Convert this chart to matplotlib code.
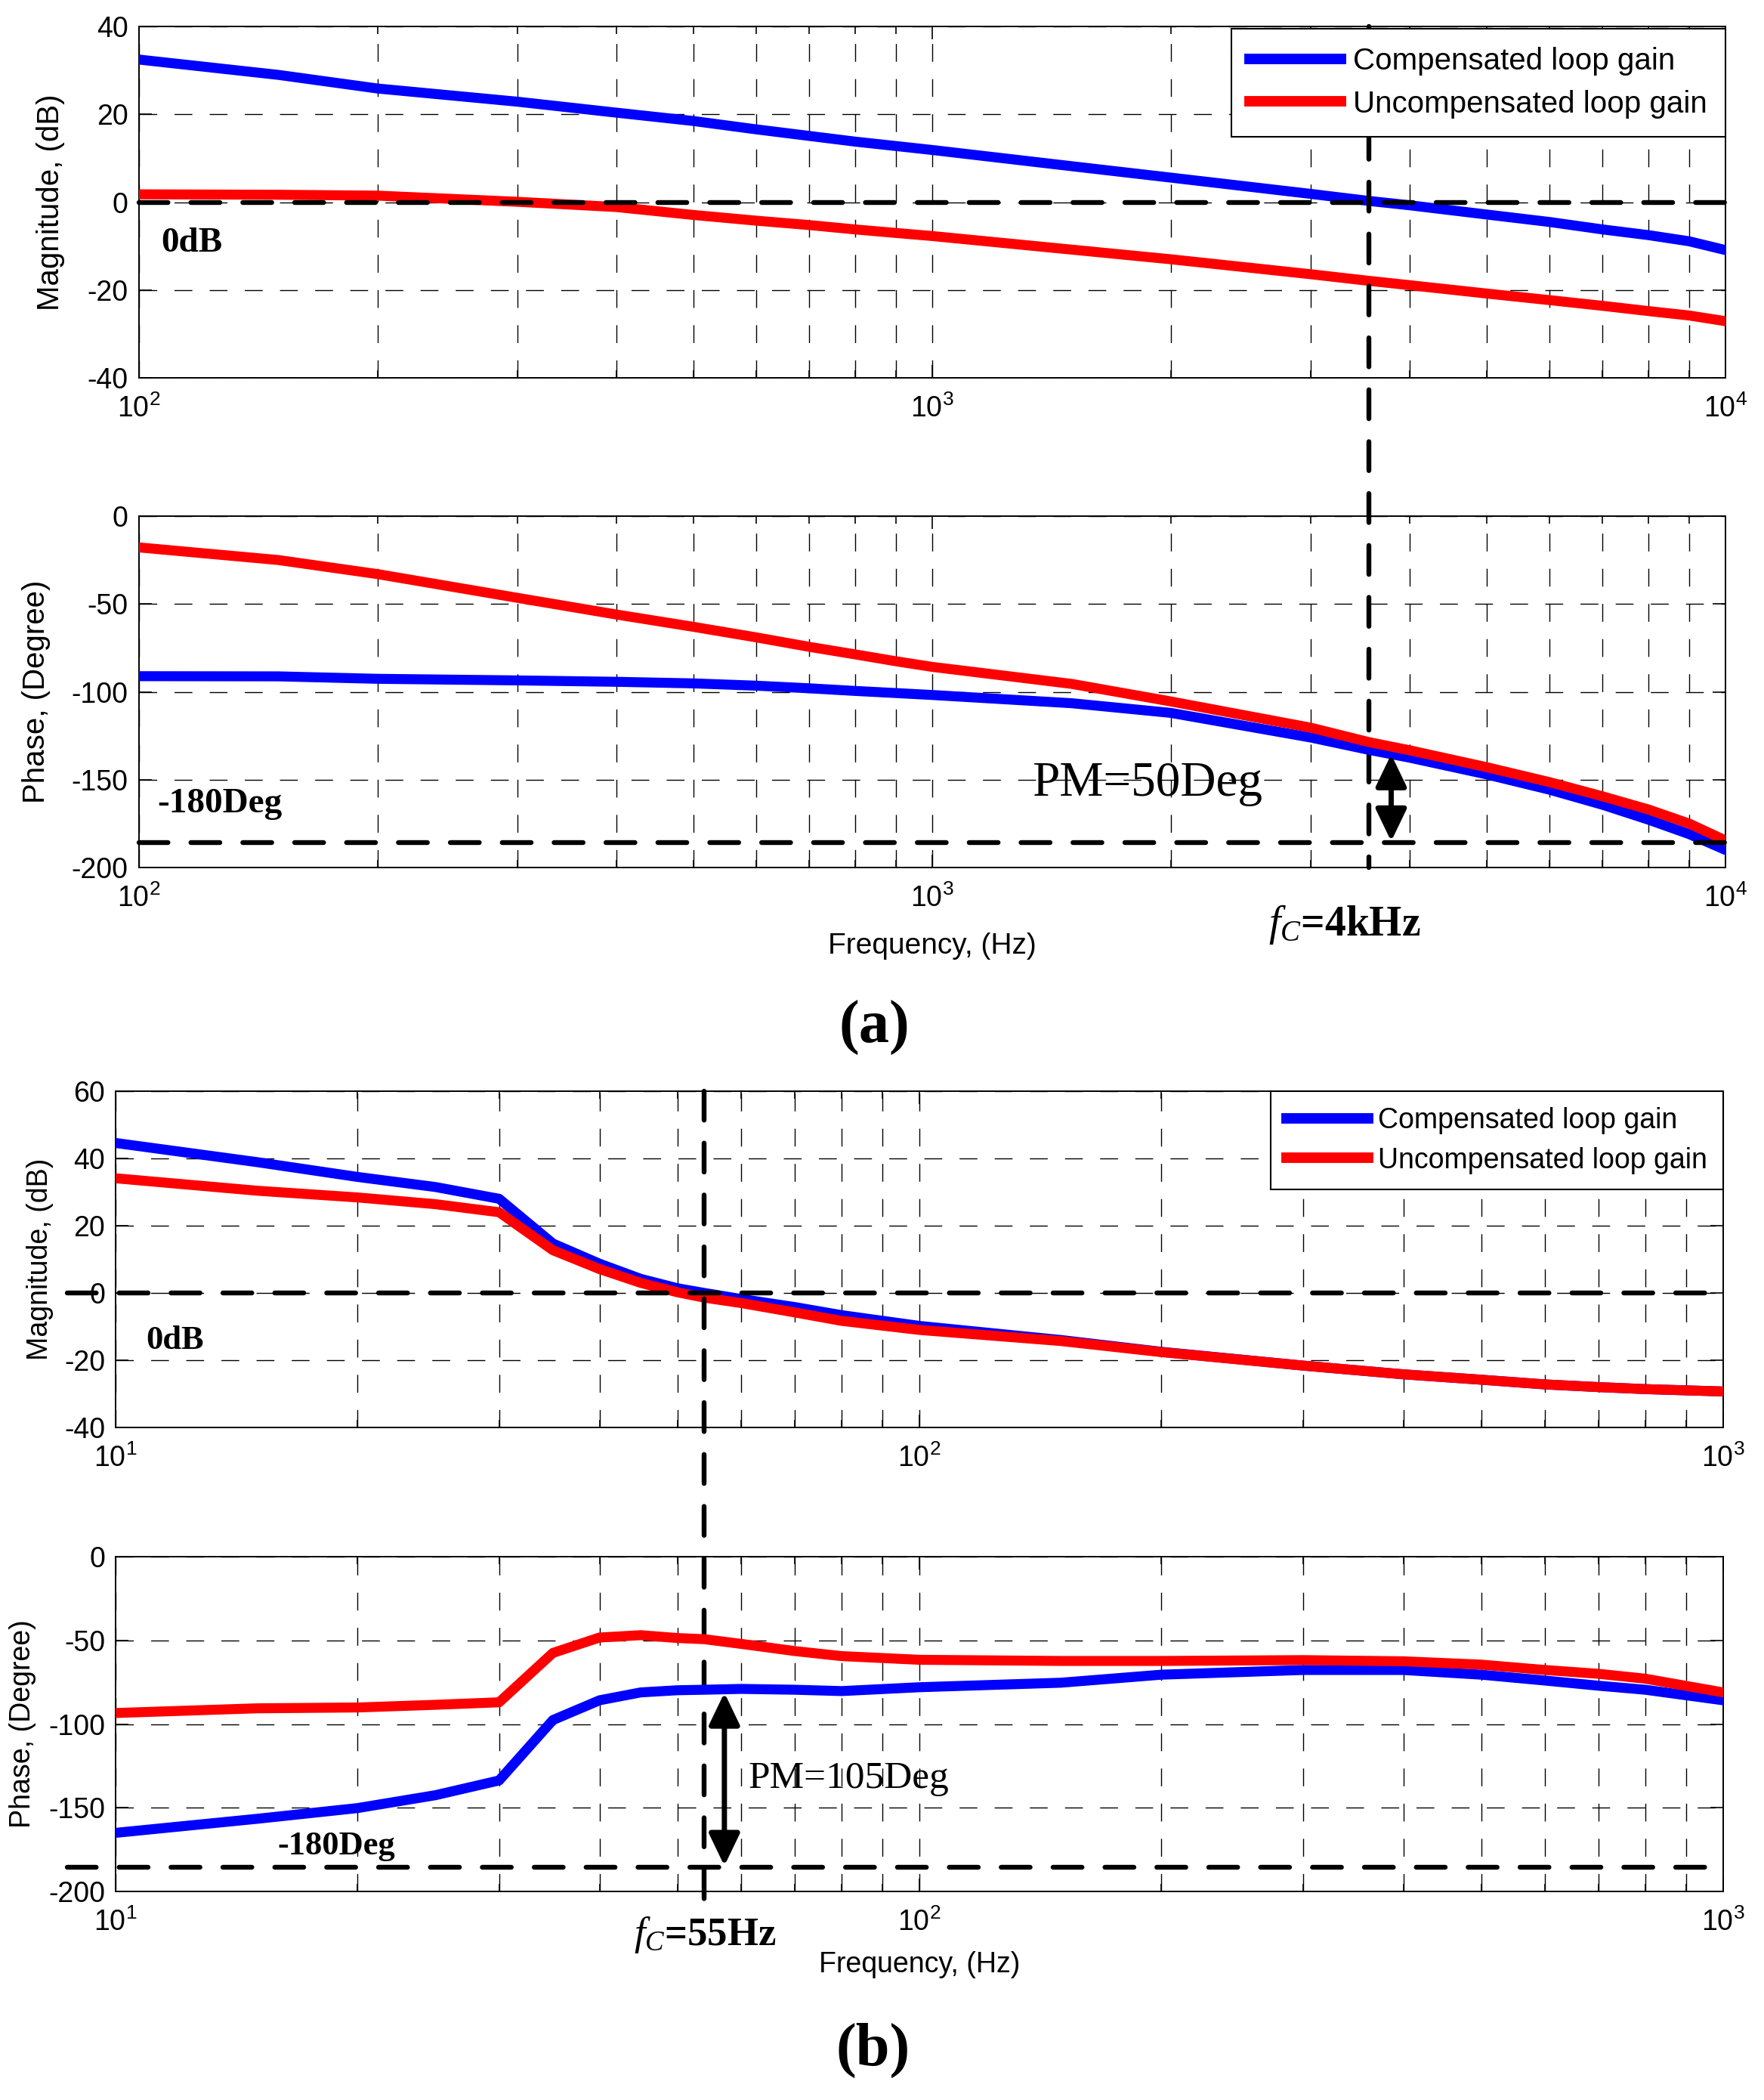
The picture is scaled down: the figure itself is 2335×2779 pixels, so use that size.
import numpy as np
import matplotlib
matplotlib.use("Agg")
import matplotlib.pyplot as plt
from matplotlib.ticker import LogLocator, NullFormatter, MultipleLocator
from matplotlib.patches import ArrowStyle
from matplotlib.transforms import blended_transform_factory as blend

plt.rcParams['font.family'] = ['Liberation Sans', 'DejaVu Sans']
plt.rcParams['axes.unicode_minus'] = False
plt.rcParams['mathtext.fontset'] = 'custom'
plt.rcParams['mathtext.it'] = 'Liberation Serif:italic'
plt.rcParams['mathtext.rm'] = 'Liberation Serif'

# ---- data (a): 4 kHz crossover ----
freq_a = [100, 150, 200, 300, 400, 500, 600, 700, 800, 900, 1000, 1500, 2000,
          3000, 3550, 4000, 5000, 6000, 7000, 8000, 9000, 10000]
mag_comp_a = [32.5, 29.0, 25.9, 22.9, 20.4, 18.5, 16.6, 15.1, 13.8, 12.8, 11.9, 8.2, 5.6,
              1.9, 0.3, -0.7, -2.8, -4.5, -6.2, -7.5, -8.9, -10.9]
mag_unc_a = [1.8, 1.7, 1.5, 0.1, -1.1, -2.9, -4.2, -5.2, -6.2, -7.0, -7.7, -10.8, -13.0,
             -16.4, -17.9, -18.9, -20.8, -22.3, -23.6, -24.8, -25.8, -27.1]
ph_comp_a = [-91.1, -91.2, -92.6, -93.5, -94.3, -95.2, -96.5, -98.0, -99.5, -100.7, -101.8,
             -106.5, -112.0, -126.0, -133.0, -137.5, -147.0, -155.7, -164.3, -172.8, -181.0, -190.0]
ph_unc_a = [-17.8, -25.0, -33.0, -46.5, -56.0, -63.0, -69.0, -74.4, -78.7, -82.6, -85.8,
            -95.5, -105.5, -120.4, -128.6, -133.3, -142.9, -151.4, -159.5, -167.0, -175.0, -184.6]
fc_a = 3550
pm_arrow_a = (3790, -135.6, -185.1)

# ---- data (b): 55 Hz crossover ----
freq_b = [10, 15, 20, 25, 30, 35, 40, 45, 50, 54, 60, 70, 80, 100, 150, 200,
          300, 400, 500, 600, 700, 800, 1000]
mag_comp_b = [44.6, 38.9, 34.5, 31.5, 28.0, 14.7, 8.7, 4.2, 1.4, 0.0, -1.8, -4.2, -6.6,
              -9.8, -14.0, -17.5, -21.6, -24.2, -25.8, -27.2, -28.0, -28.6, -29.3]
mag_unc_b = [34.1, 30.4, 28.4, 26.4, 24.0, 12.7, 7.1, 3.0, 0.2, -1.4, -3.0, -5.8, -8.3,
             -11.0, -14.3, -17.6, -21.6, -24.2, -25.8, -27.2, -28.0, -28.6, -29.3]
ph_comp_b = [-165.0, -156.6, -150.2, -142.5, -133.7, -97.6, -85.8, -81.1, -79.8, -79.5, -79.0,
             -79.5, -80.3, -78.0, -75.3, -70.5, -67.7, -67.7, -70.5, -74.0, -77.1, -79.5, -85.8]
ph_unc_b = [-93.4, -90.6, -90.1, -88.5, -87.0, -57.5, -48.3, -46.9, -48.6, -49.3, -52.1,
            -56.4, -59.4, -61.6, -62.3, -62.3, -61.8, -62.5, -64.5, -67.7, -70.0, -72.9, -81.1]
fc_b = 54
pm_arrow_b = (57.2, -81.3, -184.7)

labels = ['Compensated loop gain', 'Uncompensated loop gain']
BLUE, RED = (0, 0, 1), (1, 0, 0)
LW = 9.5

W, H = 2335, 2779
fig = plt.figure(figsize=(W / 100, H / 100), dpi=100)


def add_axes(left, right, top, bottom):
    return fig.add_axes([left / W, 1 - bottom / H, (right - left) / W, (bottom - top) / H])


def setup(ax, xlim, ylim, ystep, fs=27):
    ax.set_xscale('log')
    ax.set_xlim(xlim)
    ax.set_ylim(ylim)
    ax.yaxis.set_major_locator(MultipleLocator(ystep))
    ax.xaxis.set_major_locator(LogLocator(base=10, numticks=10))
    ax.xaxis.set_minor_locator(LogLocator(base=10, subs=np.arange(2, 10), numticks=100))
    ax.xaxis.set_minor_formatter(NullFormatter())
    ax.grid(True, which='both', axis='x', color='k', lw=1.0, linestyle=(0, (17, 16.5)))
    ax.grid(True, which='major', axis='y', color='k', lw=1.0, linestyle=(0, (17, 16.5)))
    ax.set_axisbelow(True)
    ax.tick_params(which='both', direction='in', top=True, right=True, width=1.2, labelsize=fs)
    ax.tick_params(which='major', length=12)
    ax.tick_params(which='minor', length=7)
    ax.tick_params(axis='x', pad=16)
    ax.tick_params(axis='y', pad=10)
    for sp in ax.spines.values():
        sp.set_linewidth(1.4)


THICK = dict(color='k', lw=4.6, dashes=(6.0, 4.75), dash_capstyle='round', zorder=4)


def hline(ax, y, x0=0.0):
    ax.plot([x0, 1.0], [y, y], transform=ax.get_yaxis_transform(), clip_on=False, **THICK)


def arrow(ax, x, y1, y2):
    ax.annotate('', xy=(x, y2), xytext=(x, y1),
                arrowprops=dict(arrowstyle=ArrowStyle('<|-|>', head_length=2.6, head_width=1.25),
                                color='k', lw=5, shrinkA=0, shrinkB=0, mutation_scale=10),
                zorder=6)


serif = ['Liberation Serif', 'DejaVu Serif']

# ================= (a) =================
mag_top_a, mag_bot_a, ph_bot_a = 35.2, 500.0, 1148.0
axm = add_axes(183.6, 2284, mag_top_a, mag_bot_a)
axp = add_axes(183.6, 2284, 683, ph_bot_a)
axp.set_facecolor('none')
setup(axm, (100, 10000), (-40, 40), 20)
setup(axp, (100, 10000), (-200, 0), 50)

axm.plot(freq_a, mag_comp_a, color=BLUE, lw=LW, label=labels[0], zorder=3)
axm.plot(freq_a, mag_unc_a, color=RED, lw=LW, label=labels[1], zorder=3)
axp.plot(freq_a, ph_comp_a, color=BLUE, lw=LW, zorder=3)
axp.plot(freq_a, ph_unc_a, color=RED, lw=LW, zorder=3)

hline(axm, 0)
hline(axp, -186)
y_end = -(ph_bot_a - mag_bot_a) / (mag_bot_a - mag_top_a)
axm.plot([fc_a, fc_a], [1.0, y_end], transform=blend(axm.transData, axm.transAxes),
         clip_on=False, **THICK)
arrow(axp, *pm_arrow_a)

leg = axm.legend(loc='upper right', bbox_to_anchor=(1.0, 0.9935), fontsize=29,
                 handlelength=3.0, handletextpad=0.4, borderpad=0.6, labelspacing=0.45,
                 fancybox=False, edgecolor='k', framealpha=1, borderaxespad=0)
leg.get_frame().set_linewidth(1.5)
leg.set_zorder(5)
for ln in leg.get_lines():
    ln.set_linewidth(10)

axm.set_ylabel('Magnitude, (dB)', fontsize=29)
axm.yaxis.set_label_coords(-0.0465, 0.5)
axp.set_ylabel('Phase, (Degree)', fontsize=29)
axp.yaxis.set_label_coords(-0.0555, 0.5)
axp.set_xlabel('Frequency, (Hz)', fontsize=28)
axp.xaxis.set_label_coords(0.5, -0.185)

axm.text(106.6, -11.2, '0dB', fontsize=34, fontweight='bold', family=serif, va='baseline')
axp.text(105.5, -168.5, '-180Deg', fontsize=34, fontweight='bold', family=serif, va='baseline')
axp.text(1337, -159, 'PM=50Deg', fontsize=47, family=serif, va='baseline')
axp.text(2653, -0.194, r'$f_{C}$=4kHz', transform=blend(axp.transData, axp.transAxes),
         fontsize=40, fontweight='bold', family=serif, va='baseline')
fig.text(1157.5 / W, 1 - 1360 / H, '(a)', fontsize=58, fontweight='bold', family=serif,
         ha='center', va='center')

# ================= (b) =================
mag_top_b, mag_bot_b, ph_bot_b = 1444.0, 1889.0, 2503.0
bxm = add_axes(153, 2281, mag_top_b, mag_bot_b)
bxp = add_axes(153, 2281, 2060, ph_bot_b)
bxp.set_facecolor('none')
setup(bxm, (10, 1000), (-40, 60), 20)
setup(bxp, (10, 1000), (-200, 0), 50)

bxm.plot(freq_b, mag_comp_b, color=BLUE, lw=LW, label=labels[0], zorder=3)
bxm.plot(freq_b, mag_unc_b, color=RED, lw=LW, label=labels[1], zorder=3)
bxp.plot(freq_b, ph_comp_b, color=BLUE, lw=LW, zorder=3)
bxp.plot(freq_b, ph_unc_b, color=RED, lw=LW, zorder=3)

hline(bxm, 0, x0=-0.03)
hline(bxp, -185.5, x0=-0.03)
y_end = -(ph_bot_b + 10 - mag_bot_b) / (mag_bot_b - mag_top_b)
bxm.plot([fc_b, fc_b], [1.0, y_end], transform=blend(bxm.transData, bxm.transAxes),
         clip_on=False, **THICK)
arrow(bxp, *pm_arrow_b)

leg = bxm.legend(loc='upper right', bbox_to_anchor=(1.0, 1.0), fontsize=27,
                 handlelength=2.9, handletextpad=0.35, borderpad=0.55, labelspacing=0.45,
                 fancybox=False, edgecolor='k', framealpha=1, borderaxespad=0)
leg.get_frame().set_linewidth(1.5)
leg.set_zorder(5)
for ln in leg.get_lines():
    ln.set_linewidth(10)

bxm.set_ylabel('Magnitude, (dB)', fontsize=27)
bxm.yaxis.set_label_coords(-0.0385, 0.5)
bxp.set_ylabel('Phase, (Degree)', fontsize=27)
bxp.yaxis.set_label_coords(-0.0493, 0.5)
bxp.set_xlabel('Frequency, (Hz)', fontsize=27)
bxp.xaxis.set_label_coords(0.5, -0.178)

bxm.text(10.9, -16.7, '0dB', fontsize=32, fontweight='bold', family=serif, va='baseline')
bxp.text(15.9, -177.9, '-180Deg', fontsize=32, fontweight='bold', family=serif, va='baseline')
bxp.text(61.2, -138, 'PM=105Deg', fontsize=37, family=serif, va='baseline')
bxp.text(44.1, -0.160, r'$f_{C}$=55Hz', transform=blend(bxp.transData, bxp.transAxes),
         fontsize=38, fontweight='bold', family=serif, va='baseline')
fig.text(1156 / W, 1 - 2713 / H, '(b)', fontsize=58, fontweight='bold', family=serif,
         ha='center', va='center')

fig.savefig('out.png', dpi=100)
